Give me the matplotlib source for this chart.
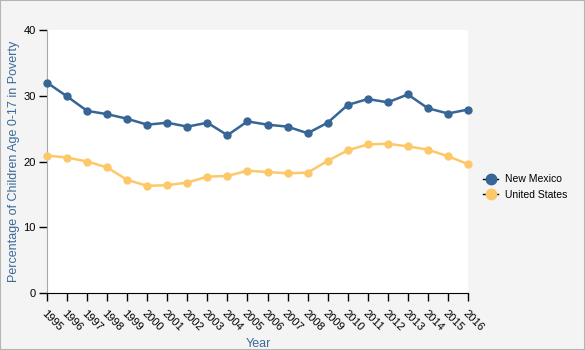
import matplotlib.pyplot as plt
from matplotlib.lines import Line2D
from matplotlib.patches import Rectangle

years = list(range(1995, 2017))
new_mexico = [32.0, 29.9, 27.7, 27.2, 26.5, 25.6, 25.9, 25.3, 25.9, 24.0, 26.1,
              25.6, 25.3, 24.3, 25.9, 28.6, 29.5, 29.0, 30.2, 28.1, 27.3, 27.9]
united_states = [20.9, 20.6, 20.0, 19.1, 17.2, 16.3, 16.4, 16.8, 17.7, 17.8, 18.6,
                 18.4, 18.2, 18.3, 20.1, 21.7, 22.6, 22.7, 22.3, 21.8, 20.8, 19.6]
series_names = ["New Mexico", "United States"]
colors = ["#376596", "#fdc868"]
y_ticks = [0, 10, 20, 30, 40]

plt.rcParams['font.family'] = ['Liberation Sans', 'DejaVu Sans']

W, H = 585, 350
fig = plt.figure(figsize=(W / 100, H / 100), dpi=100, facecolor="#f4f4f4")
# plot area in pixels: x 47..468, y 30..293
ax = fig.add_axes([47 / W, 1 - 293 / H, (468 - 47) / W, (293 - 30) / H])
ax.set_facecolor("white")

for vals, c in zip([new_mexico, united_states], colors):
    ax.plot(years, vals, color=c, lw=1.8, marker="o", ms=5, mec=c, mfc=c, zorder=3,
            clip_on=False)

ax.set_xlim(years[0], years[-1])
ax.set_ylim(0, 40)
ax.set_yticks(y_ticks)
ax.set_xticks(years)
ax.set_xticklabels([str(y) for y in years], rotation=-45, ha="left",
                   va="top", rotation_mode="anchor", fontsize=8)
ax.tick_params(axis="x", length=6, width=1, color="black", pad=5)
ax.tick_params(axis="y", length=6, width=1, color="black", labelsize=8, pad=2)

for s in ["top", "right"]:
    ax.spines[s].set_visible(False)
ax.spines["left"].set_color("#a8a8a8")
ax.spines["bottom"].set_color("black")

ax.set_ylabel("Percentage of Children Age 0-17 in Poverty", color="#3a6a98",
              fontsize=9)
ax.yaxis.set_label_coords(-(47 - 20) / (468 - 47), (293 - 161) / (293 - 30))
ax.set_xlabel("Year", color="#3a6a98", fontsize=9)
ax.xaxis.set_label_coords((258 - 47) / (468 - 47), -(338 - 293) / (293 - 30))

handles = [Line2D([], [], color="black", lw=1, marker="o", ms=7.5,
                  mfc=c, mec=c) for c in colors]
fig.legend(handles, series_names, loc="center left",
           bbox_to_anchor=(474 / W, 1 - 187 / H), frameon=False, fontsize=7.5,
           handlelength=1.4, handletextpad=0.7, labelspacing=0.5)

fig.patches.append(Rectangle((0, 0), 1, 1, transform=fig.transFigure,
                             fill=False, edgecolor="#b4b4b4", lw=1.5))

fig.savefig("out.png", dpi=100, facecolor=fig.get_facecolor())
